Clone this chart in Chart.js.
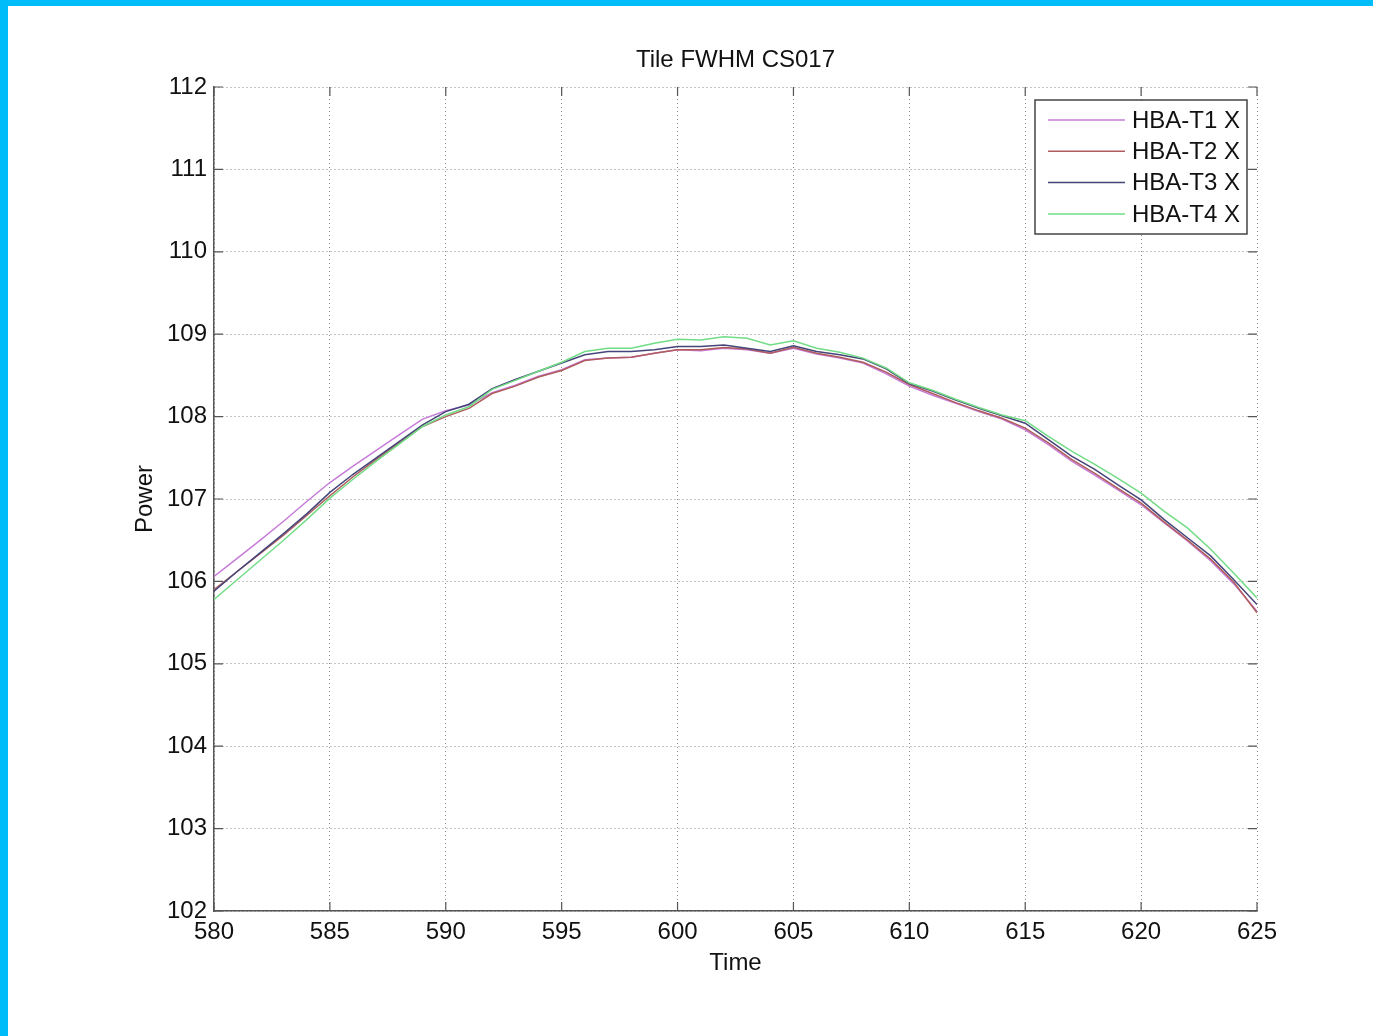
<!DOCTYPE html>
<html>
<head>
<meta charset="utf-8">
<title>Tile FWHM CS017</title>
<script src="https://cdn.jsdelivr.net/npm/chart.js@4.4.0/dist/chart.umd.min.js"></script>
<style>
  html, body { margin: 0; padding: 0; background: #00bcf9; }
  #wrap { position: absolute; left: 8px; top: 6px; width: 1365px; height: 1030px; background: #fff; }
</style>
</head>
<body>
<div id="wrap"><canvas id="chart" width="1365" height="1030"></canvas></div>
<script>
// Données (Time 580..625, pas de 1)
const temps = [580,581,582,583,584,585,586,587,588,589,590,591,592,593,594,595,596,597,598,599,
  600,601,602,603,604,605,606,607,608,609,610,611,612,613,614,615,616,617,618,619,620,621,622,623,624,625];

const hbaT1 = [106.06,106.28,106.50,106.73,106.97,107.20,107.40,107.59,107.78,107.97,
  108.07,108.14,108.29,108.38,108.49,108.57,108.69,108.71,108.72,108.77,
  108.81,108.80,108.83,108.81,108.77,108.83,108.76,108.71,108.65,108.52,
  108.37,108.26,108.16,108.06,107.97,107.84,107.66,107.46,107.29,107.11,
  106.93,106.71,106.49,106.25,105.97,105.64];

const hbaT2 = [105.90,106.12,106.34,106.56,106.80,107.04,107.27,107.48,107.68,107.88,
  108.00,108.10,108.28,108.37,108.48,108.56,108.68,108.71,108.72,108.77,
  108.81,108.81,108.84,108.82,108.77,108.84,108.77,108.72,108.66,108.54,
  108.39,108.28,108.17,108.07,107.98,107.86,107.68,107.48,107.31,107.13,
  106.95,106.72,106.50,106.27,105.99,105.62];

const hbaT3 = [105.88,106.12,106.35,106.58,106.82,107.08,107.30,107.50,107.70,107.90,
  108.06,108.15,108.34,108.45,108.55,108.65,108.75,108.79,108.79,108.81,
  108.85,108.85,108.87,108.83,108.79,108.86,108.79,108.75,108.70,108.58,
  108.40,108.31,108.20,108.10,108.01,107.92,107.72,107.52,107.36,107.17,
  106.99,106.75,106.53,106.31,106.02,105.72];

const hbaT4 = [105.78,106.02,106.26,106.50,106.75,107.01,107.24,107.46,107.67,107.88,
  108.02,108.12,108.33,108.44,108.55,108.66,108.79,108.83,108.83,108.89,
  108.94,108.93,108.97,108.95,108.87,108.92,108.83,108.78,108.71,108.59,
  108.41,108.32,108.21,108.11,108.02,107.95,107.76,107.58,107.42,107.25,
  107.07,106.85,106.65,106.39,106.10,105.80];

const series = [
  { nom: 'HBA-T1 X', valeurs: hbaT1, couleur: '#c67cd8' },
  { nom: 'HBA-T2 X', valeurs: hbaT2, couleur: '#b05c5c' },
  { nom: 'HBA-T3 X', valeurs: hbaT3, couleur: '#45457a' },
  { nom: 'HBA-T4 X', valeurs: hbaT4, couleur: '#72dc86' }
];

const FONTE = 'Liberation Sans, Arial, Helvetica, sans-serif';
const GRIS_AXE = '#555';

// Légende MATLAB dans le coin haut-droit de la zone de tracé
const legendeInterne = {
  id: 'legendeInterne',
  afterDatasetsDraw(chart) {
    const a = chart.chartArea;
    const ctx = chart.ctx;
    const w = 212, h = 134;
    const x0 = a.right - 10 - w, y0 = a.top + 13;
    ctx.save();
    ctx.fillStyle = '#fff';
    ctx.fillRect(x0, y0, w, h);
    ctx.strokeStyle = '#444';
    ctx.lineWidth = 1.5;
    ctx.strokeRect(x0, y0, w, h);
    ctx.font = '24px ' + FONTE;
    ctx.textBaseline = 'middle';
    ctx.fillStyle = '#111';
    series.forEach((s, i) => {
      const y = y0 + 20 + i * 31.3;
      ctx.strokeStyle = s.couleur;
      ctx.lineWidth = 1.5;
      ctx.beginPath();
      ctx.moveTo(x0 + 13, y);
      ctx.lineTo(x0 + 90, y);
      ctx.stroke();
      ctx.fillText(s.nom, x0 + 97, y + 1);
    });
    ctx.restore();
  }
};

// Petites graduations vers l'intérieur, comme MATLAB
const graduations = {
  id: 'graduations',
  afterDraw(chart) {
    const a = chart.chartArea;
    const ctx = chart.ctx;
    const sx = chart.scales.x, sy = chart.scales.y;
    ctx.save();
    ctx.strokeStyle = GRIS_AXE;
    ctx.lineWidth = 1.2;
    ctx.beginPath();
    sx.ticks.forEach(t => {
      const x = sx.getPixelForValue(t.value);
      ctx.moveTo(x, a.bottom); ctx.lineTo(x, a.bottom - 9);
      ctx.moveTo(x, a.top); ctx.lineTo(x, a.top + 9);
    });
    sy.ticks.forEach(t => {
      const y = sy.getPixelForValue(t.value);
      ctx.moveTo(a.left, y); ctx.lineTo(a.left + 9, y);
      ctx.moveTo(a.right, y); ctx.lineTo(a.right - 9, y);
    });
    ctx.stroke();
    ctx.restore();
  }
};

new Chart(document.getElementById('chart'), {
  type: 'line',
  data: {
    datasets: series.map((s, i) => ({
      label: s.nom,
      data: temps.map((t, k) => ({ x: t, y: s.valeurs[k] })),
      borderColor: s.couleur,
      borderWidth: 1.5,
      pointRadius: 0,
      tension: 0,
      fill: false,
      order: series.length - i
    }))
  },
  options: {
    responsive: false,
    animation: false,
    layout: { padding: { left: 122.6, right: 116, top: 0, bottom: 58.6 } },
    plugins: {
      legend: { display: false },
      tooltip: { enabled: false },
      title: {
        display: true,
        text: 'Tile FWHM CS017',
        fullSize: false,
        color: '#111',
        font: { family: FONTE, size: 24, weight: 'normal' },
        padding: { top: 39.6, bottom: 12.6 }
      }
    },
    scales: {
      x: {
        type: 'linear',
        min: 580, max: 625,
        afterFit: s => { s.height = 66.4; },
        ticks: { stepSize: 5, padding: 7, color: '#111', font: { family: FONTE, size: 24 } },
        grid: { color: '#8c8c8c', lineWidth: 1, drawTicks: false },
        border: { display: true, color: GRIS_AXE, width: 1.5, dash: [1, 3] },
        title: { display: true, text: 'Time', color: '#111', padding: 0, font: { family: FONTE, size: 24 } }
      },
      y: {
        min: 102, max: 112,
        afterFit: s => { s.width = 83.4; },
        ticks: { stepSize: 1, padding: 7, color: '#111', font: { family: FONTE, size: 24 } },
        grid: { color: '#8c8c8c', lineWidth: 1, drawTicks: false },
        border: { display: true, color: GRIS_AXE, width: 1.5, dash: [1, 3] },
        title: { display: true, text: 'Power', color: '#111', padding: 0, font: { family: FONTE, size: 24 } }
      }
    }
  },
  plugins: [legendeInterne, graduations]
});
</script>
</body>
</html>
